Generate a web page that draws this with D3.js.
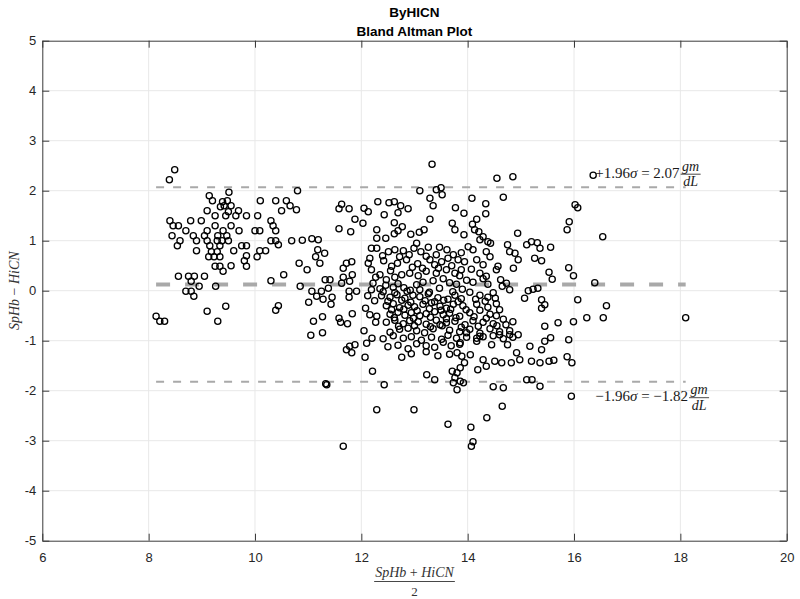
<!DOCTYPE html>
<html>
<head>
<meta charset="utf-8">
<script src="https://cdn.jsdelivr.net/npm/d3@7"></script>
<style>
  body { margin: 0; background: #fff; }
  svg { display: block; }
</style>
</head>
<body>
<svg id="chart" width="800" height="599"></svg>
<script>
// Bland-Altman agreement plot: SpHb vs HiCN haemoglobin readings.

const titleLines = ["ByHICN", "Bland Altman Plot"];
const xTicks = [6, 8, 10, 12, 14, 16, 18, 20];
const yTicks = [-5, -4, -3, -2, -1, 0, 1, 2, 3, 4, 5];
const xDomain = [6, 20];
const yDomain = [-5, 5];

// Limits of agreement (gm/dL) and the mean bias between them.
const upperLimit = 2.07;
const lowerLimit = -1.82;
const bias = 0.125;

// [mean of the two methods, SpHb - HiCN] pairs, grouped by mean range.
const lowRange = [
  [8.49,2.42],[8.39,2.22],[9.14,1.90],[9.51,1.97],[9.20,1.80],[9.39,1.78],[9.48,1.80],[9.35,1.68],
  [9.42,1.70],[9.55,1.70],[9.50,1.58],[9.10,1.60],[9.69,1.60],[9.84,1.50],[10.05,1.50],[10.10,1.80],
  [10.39,1.80],[10.59,1.80],[10.50,1.60],[10.66,1.70],[10.78,1.62],[10.80,2.00],[9.25,1.50],[9.45,1.50],
  [9.64,1.50],[8.40,1.40],[8.46,1.30],[8.56,1.30],[8.79,1.40],[8.99,1.40],[9.25,1.30],[9.40,1.20],
  [9.55,1.30],[9.70,1.20],[9.10,1.20],[8.70,1.20],[8.44,1.10],[8.84,1.10],[9.05,1.10],[9.30,1.10],
  [9.47,1.10],[8.59,1.00],[8.90,1.00],[9.10,1.00],[9.29,1.00],[9.38,1.00],[9.50,1.00],[8.54,0.90],
  [9.15,0.90],[9.34,0.90],[8.90,0.80],[9.18,0.78],[9.29,0.78],[9.13,0.68],[9.23,0.68],[9.34,0.68],
  [9.60,0.80],[9.75,0.90],[9.84,0.90],[9.84,0.70],[9.80,0.60],[9.84,0.49],[10.04,0.68],[10.09,0.80],
  [10.20,0.80],[9.25,0.49],[9.34,0.49],[9.40,0.39],[9.55,0.50],[10.00,1.20],[10.09,1.20],[10.30,1.40],
  [10.34,1.30],[10.39,1.20],[10.30,1.00],[10.39,1.00],[10.44,0.92],[10.69,1.00],[10.89,1.01],[11.07,1.04],
  [11.19,1.02],[11.18,0.82],[11.31,0.75],[11.14,0.68],[11.22,0.55],[10.83,0.55],[10.98,0.42],[10.54,0.32],
  [10.30,0.20],[8.56,0.29],[8.75,0.29],[8.86,0.29],[9.05,0.29],[8.80,0.19],[8.95,0.09],[8.70,-0.01],
  [8.80,-0.01],[8.85,-0.11],[9.26,0.09],[9.45,-0.31],[9.10,-0.41],[9.30,-0.61],[8.14,-0.51],[8.21,-0.61],
  [8.30,-0.61],[10.44,-0.30],[10.39,-0.39],[10.85,0.09],[11.07,-0.01],[11.16,-0.11],[11.25,-0.01],
  [11.01,-0.23],[11.28,-0.17],[11.43,-0.27],[11.45,-0.13],[11.32,0.22],[11.41,0.22],[11.38,0.05],
  [11.10,-0.61],[11.27,-0.52],[11.05,-0.89],[11.27,-0.84],[11.33,-1.86],[11.35,-1.88]
];

const midRange = [
  [11.58,1.64],[11.63,1.73],[11.77,1.64],[11.58,1.24],[11.80,1.18],[11.88,1.43],[11.58,-0.55],[11.61,-0.63],
  [11.74,-0.66],[11.83,-0.46],[11.66,0.45],[11.72,0.55],[11.82,0.58],[11.66,0.27],[11.78,0.19],[11.63,0.15],
  [11.77,-0.01],[11.91,-0.01],[11.77,-0.13],[11.83,0.32],[11.78,-1.11],[11.88,-1.08],[11.72,-1.18],[11.82,-1.24],
  [11.66,-3.11],
  [12.08,-0.35],[12.16,-0.48],[12.29,-0.51],[12.27,-0.63],[12.05,-0.80],[12.20,-0.95],[12.10,-1.05],
  [12.25,-0.20],[12.12,-0.10],[12.22,0.15],
  [12.31,1.78],[12.52,1.76],[12.62,1.78],[12.74,1.70],[12.88,1.64],[12.05,1.65],[12.13,1.58],[12.43,1.52],
  [12.69,1.56],[13.29,1.85],[13.35,1.70],[13.52,1.92],[13.10,2.00],[13.41,2.02],[13.77,1.66],[13.93,1.55],
  [13.29,1.43],[13.18,1.22],[13.09,1.17],[12.93,1.13],[12.77,1.28],[12.62,1.36],[12.69,1.20],[12.62,1.14],
  [12.46,1.05],[12.29,1.22],[12.29,1.05],[12.03,1.35],[13.93,1.12],[13.76,1.22],[13.71,1.35],
  [12.19,0.85],[12.29,0.85],[12.51,0.78],[12.63,0.82],[12.79,0.80],[12.99,0.85],[13.04,0.95],[13.26,0.87],
  [13.47,0.87],[13.61,0.82],[13.73,0.72],[13.88,0.76],[13.94,0.58],[13.82,0.62],[13.63,0.65],[13.51,0.58],
  [13.38,0.52],[13.29,0.62],[13.15,0.45],[13.06,0.54],[12.96,0.47],[12.85,0.62],[12.72,0.68],[12.57,0.49],
  [12.16,0.65],[12.13,0.55],[12.19,0.42],[12.27,0.27],[12.19,0.02],
  [12.42,0.60],[12.55,0.40],[12.68,0.55],[12.90,0.72],[13.12,0.78],[13.45,0.45],[13.70,0.50],[13.85,0.30],
  [12.40,0.70],
  [12.35,0.32],[12.47,0.22],[12.63,0.27],[12.76,0.32],[12.91,0.35],[13.07,0.30],[13.22,0.39],[13.41,0.35],
  [13.60,0.42],[13.76,0.35],[13.88,0.42],[13.22,0.69],[13.41,0.72],
  [12.35,0.04],[12.46,0.11],[12.60,0.07],[12.69,0.14],[12.80,0.06],[12.92,0.01],[13.04,0.12],[13.16,0.17],
  [13.35,0.20],[13.54,0.24],[13.66,0.16],[13.79,0.13],[13.98,0.21],
  [12.41,-0.02],[12.63,-0.04],[12.86,-0.01],[13.10,0.02],[13.28,-0.03],[13.47,0.05],[13.72,-0.02],[13.90,0.03],
  [12.38,-0.10],[12.54,-0.13],[12.67,-0.08],[12.82,-0.15],[12.97,-0.09],[13.10,-0.12],[13.26,-0.06],
  [13.44,-0.14],[13.63,-0.17],[13.76,-0.09],[13.88,-0.16],
  [12.50,-0.21],[12.76,-0.19],[12.93,-0.23],[13.20,-0.20],[13.38,-0.22],[13.55,-0.19],[13.82,-0.22],
  [12.47,-0.30],[12.60,-0.26],[12.72,-0.34],[12.88,-0.29],[13.00,-0.32],[13.16,-0.27],[13.32,-0.24],
  [13.48,-0.31],[13.60,-0.35],[13.73,-0.27],[13.91,-0.30],
  [12.57,-0.38],[12.80,-0.37],[13.05,-0.40],[13.28,-0.36],[13.50,-0.39],[13.68,-0.37],[13.97,-0.38],
  [12.54,-0.47],[12.69,-0.43],[12.82,-0.49],[12.94,-0.44],[13.10,-0.50],[13.22,-0.46],[13.38,-0.42],
  [13.54,-0.48],[13.66,-0.45],[13.85,-0.51],
  [12.62,-0.54],[12.98,-0.55],[13.30,-0.53],[13.60,-0.56],[13.78,-0.54],
  [12.47,-0.63],[12.63,-0.59],[12.79,-0.66],[12.91,-0.60],[13.07,-0.62],[13.22,-0.67],[13.41,-0.59],
  [13.60,-0.64],[13.76,-0.61],[13.95,-0.68],
  [12.70,-0.71],[13.00,-0.70],[13.30,-0.72],[13.52,-0.70],[13.88,-0.73],
  [12.54,-0.83],[12.72,-0.77],[12.88,-0.75],[13.04,-0.80],[13.19,-0.84],[13.35,-0.76],[13.48,-0.68],
  [13.66,-0.79],[13.85,-0.82],
  [12.41,-0.96],[12.60,-0.90],[12.79,-0.95],[12.94,-0.92],[13.13,-0.99],[13.32,-0.93],[13.51,-0.97],
  [13.63,-0.89],[13.79,-0.95],[13.98,-0.93],
  [12.50,-1.12],[12.69,-1.09],[12.88,-1.16],[13.04,-1.06],[13.22,-1.10],[13.38,-1.13],[13.54,-1.03],
  [13.69,-1.10],[13.85,-1.07],
  [12.76,-1.33],[12.94,-1.26],[13.22,-1.22],[13.44,-1.30],[13.66,-1.27],
  [13.98,-0.84],[13.86,-1.04],[13.80,-1.24],[13.89,-1.31],[13.94,-1.44],[13.86,-1.54],[13.80,-1.64],
  [13.71,-1.61],[13.76,-1.74],[13.86,-1.81],[13.73,-1.84],[13.80,-1.98],[13.92,-1.84],[13.38,-1.78],
  [13.23,-1.68],[13.63,-2.67],[12.99,-2.38],[12.29,-2.38],[12.43,-1.88],[12.21,-1.61],[12.07,-1.33],
  [13.33,2.53],[13.50,2.06]
];

const highRange = [
  [14.08,1.85],[14.34,1.74],[14.67,1.87],[14.34,1.54],[14.17,1.43],[14.09,1.33],[14.13,1.22],[14.21,1.18],
  [14.29,1.08],[14.23,1.02],[14.38,0.98],[14.43,0.95],[14.94,1.15],[14.01,0.88],[14.10,0.82],
  [14.35,0.78],[14.42,0.68],[14.54,0.42],[14.75,0.92],[14.79,0.78],[14.89,0.75],[14.95,0.62],[14.86,0.45],
  [14.57,0.49],[14.62,0.22],[14.73,0.15],[14.79,0.02],[14.65,0.09],[15.11,0.92],[15.20,0.98],[15.31,0.96],
  [15.36,0.85],[15.56,0.87],[15.26,0.65],[15.39,0.60],[15.53,0.37],[15.59,0.23],[15.32,0.05],[15.23,0.03],
  [15.14,0.00],[15.07,-0.15],[15.39,-0.18],[15.45,-0.28],[15.39,-0.35],[15.45,-0.71],[15.56,-0.94],
  [15.45,-1.01],[15.70,-0.64],[15.39,-1.18],[15.53,-1.41],[15.62,-1.39],[15.36,-1.44],[15.20,-1.41],
  [14.98,-1.38],[14.82,-1.44],[14.64,-1.44],[14.51,-1.41],[14.35,-1.51],[14.29,-1.38],[14.45,-1.08],
  [14.60,-0.88],[14.79,-0.88],[14.95,-0.88],[14.92,-1.24],[14.75,-1.08],[15.17,-1.11],
  [14.23,-0.91],[14.17,-1.01],[14.05,-1.28],[14.19,-1.58],[14.48,-1.92],[14.67,-1.94],[15.11,-1.78],
  [15.21,-1.78],[15.36,-1.91],[14.65,-2.31],[14.36,-2.54],[14.06,-2.73],[14.10,-3.02],[14.07,-3.11],
  [14.07,0.43],[14.23,0.35],[14.35,0.29],[14.17,0.62],[14.29,0.52],
  [14.10,0.17],[14.29,0.24],[14.38,0.13],[14.04,-0.03],[14.23,-0.09],[14.38,-0.13],[14.48,-0.04],
  [14.17,-0.27],[14.38,-0.33],[14.54,-0.26],[14.04,-0.44],[14.23,-0.39],[14.42,-0.47],[14.54,-0.50],
  [14.10,-0.60],[14.29,-0.63],[14.48,-0.66],[14.67,-0.57],[14.85,-0.62],
  [14.04,-0.77],[14.23,-0.85],[14.42,-0.76],[14.60,-0.82],[14.79,-0.80],
  [14.17,-0.95],[14.29,-0.92],[14.48,-0.90],[14.67,-0.96],[14.85,-0.93],
  [14.15,-0.17],[14.33,-0.21],[14.52,-0.15],[14.12,-0.52],[14.35,-0.55],[14.60,-0.38],[14.20,-0.71],
  [14.55,-0.70],[14.72,-0.68],
  [14.55,2.25],[14.85,2.28],
  [15.91,1.38],[15.87,1.22],[16.02,1.72],[16.07,1.66],[16.36,2.31],[16.54,1.08],[16.39,0.16],[15.90,0.46],
  [15.99,0.30],[16.07,-0.18],[15.99,-0.62],[15.90,-0.98],[15.87,-1.32],[15.96,-1.44],[16.24,-0.54],
  [16.61,-0.30],[16.55,-0.54],[15.95,-2.11],[18.10,-0.54]
];

const points = [...lowRange, ...midRange, ...highRange];

const svg = d3.select("#chart");
const plot = { left: 42.3, right: 786.7, top: 40.7, bottom: 540.7 };

const x = d3.scaleLinear().domain(xDomain).range([plot.left, plot.right]);
const y = d3.scaleLinear().domain(yDomain).range([plot.bottom, plot.top]);

const axisColor = "#3a3a3a";
const tickFont = "'Liberation Sans', Arial, sans-serif";
const mathFont = "'Liberation Serif', 'Times New Roman', serif";

// Grid
const grid = svg.append("g").attr("class", "grid");
grid.selectAll("line.vx").data(xTicks.slice(1, -1)).join("line")
  .attr("x1", d => x(d)).attr("x2", d => x(d))
  .attr("y1", plot.top).attr("y2", plot.bottom)
  .attr("stroke", "#e8e8e8").attr("stroke-width", 1);
grid.selectAll("line.hy").data(yTicks.slice(1, -1)).join("line")
  .attr("x1", plot.left).attr("x2", plot.right)
  .attr("y1", d => y(d)).attr("y2", d => y(d))
  .attr("stroke", "#e8e8e8").attr("stroke-width", 1);

// Limit-of-agreement and bias lines across the measured range
const xExtent = d3.extent(points, d => d[0]);
const refLines = [
  { v: upperLimit, w: 2, dash: "8,9" },
  { v: lowerLimit, w: 2, dash: "8,9" },
  { v: bias, w: 4, dash: "14,15" }
];
svg.append("g").selectAll("line").data(refLines).join("line")
  .attr("x1", x(xExtent[0])).attr("x2", x(xExtent[1]))
  .attr("y1", d => y(d.v)).attr("y2", d => y(d.v))
  .attr("stroke", "#a9a9a9")
  .attr("stroke-width", d => d.w)
  .attr("stroke-dasharray", d => d.dash);

// Data points
svg.append("g").selectAll("circle").data(points).join("circle")
  .attr("cx", d => x(d[0])).attr("cy", d => y(d[1]))
  .attr("r", 3.1)
  .attr("fill", "none")
  .attr("stroke", "#000")
  .attr("stroke-width", 1.3);

// Axes with inward ticks on all four sides
const fmt = d => String(d);
function styleAxis(g) {
  g.selectAll("path.domain").attr("stroke", axisColor).attr("stroke-width", 1);
  g.selectAll(".tick line").attr("stroke", axisColor).attr("stroke-width", 1);
  g.selectAll(".tick text").attr("fill", "#262626")
    .style("font-family", tickFont).style("font-size", "13px");
}
svg.append("g").attr("transform", `translate(0,${plot.bottom})`)
  .call(d3.axisBottom(x).tickValues(xTicks).tickFormat(fmt).tickSizeInner(-7).tickSizeOuter(0).tickPadding(12))
  .call(styleAxis);
svg.append("g").attr("transform", `translate(0,${plot.top})`)
  .call(d3.axisTop(x).tickValues(xTicks).tickFormat("").tickSizeInner(-7).tickSizeOuter(0))
  .call(styleAxis);
svg.append("g").attr("transform", `translate(${plot.left},0)`)
  .call(d3.axisLeft(y).tickValues(yTicks).tickFormat(fmt).tickSizeInner(-7).tickSizeOuter(0).tickPadding(6))
  .call(styleAxis);
svg.append("g").attr("transform", `translate(${plot.right},0)`)
  .call(d3.axisRight(y).tickValues(yTicks).tickFormat("").tickSizeInner(-7).tickSizeOuter(0))
  .call(styleAxis);

// Title
svg.append("g").selectAll("text").data(titleLines).join("text")
  .attr("x", (plot.left + plot.right) / 2)
  .attr("y", (d, i) => 17 + i * 18.5)
  .attr("text-anchor", "middle")
  .attr("fill", "#000")
  .style("font-family", tickFont)
  .style("font-weight", "bold")
  .style("font-size", "13.5px")
  .text(d => d);

// Y axis label: SpHb − HiCN
const yLab = svg.append("text")
  .attr("transform", `translate(19,${(plot.top + plot.bottom) / 2}) rotate(-90)`)
  .attr("text-anchor", "middle")
  .attr("fill", "#333")
  .style("font-family", mathFont)
  .style("font-size", "14px");
yLab.append("tspan").style("font-style", "italic").text("SpHb");
yLab.append("tspan").text(" \u2212 ");
yLab.append("tspan").style("font-style", "italic").text("HiCN");

// X axis label: (SpHb + HiCN) / 2
const cx = (plot.left + plot.right) / 2;
const num = svg.append("text")
  .attr("x", cx).attr("y", 577)
  .attr("text-anchor", "middle")
  .attr("fill", "#333")
  .style("font-family", mathFont)
  .style("font-size", "14px");
num.append("tspan").style("font-style", "italic").text("SpHb");
num.append("tspan").text(" + ");
num.append("tspan").style("font-style", "italic").text("HiCN");
const numW = num.node().getComputedTextLength();
svg.append("line")
  .attr("x1", cx - numW / 2 - 1).attr("x2", cx + numW / 2 + 1)
  .attr("y1", 581.5).attr("y2", 581.5)
  .attr("stroke", "#333").attr("stroke-width", 0.9);
svg.append("text")
  .attr("x", cx).attr("y", 596)
  .attr("text-anchor", "middle")
  .attr("fill", "#333")
  .style("font-family", mathFont)
  .style("font-size", "13px")
  .text("2");

// Limit annotations: ±1.96σ = value gm/dL
function limitLabel(value, sign, above) {
  const lineY = y(value);
  const barY = above ? lineY - 13 : lineY + 16;
  const g = svg.append("g");
  const t = g.append("text")
    .attr("x", x(16.4)).attr("y", barY + 3.5)
    .attr("fill", "#1a1a1a")
    .style("font-family", mathFont)
    .style("font-size", "15px");
  t.append("tspan").text(sign + "1.96");
  t.append("tspan").style("font-style", "italic").text("\u03c3");
  t.append("tspan").text(" = " + (value < 0 ? "\u2212" : "") + Math.abs(value).toFixed(2));
  const w = t.node().getComputedTextLength();
  const fx = x(16.4) + w + 11;
  g.append("text").attr("x", fx).attr("y", barY - 3.5)
    .attr("text-anchor", "middle").attr("fill", "#1a1a1a")
    .style("font-family", mathFont).style("font-style", "italic").style("font-size", "14px")
    .text("gm");
  g.append("line").attr("x1", fx - 10).attr("x2", fx + 10)
    .attr("y1", barY).attr("y2", barY)
    .attr("stroke", "#1a1a1a").attr("stroke-width", 0.8);
  g.append("text").attr("x", fx).attr("y", barY + 12)
    .attr("text-anchor", "middle").attr("fill", "#1a1a1a")
    .style("font-family", mathFont).style("font-style", "italic").style("font-size", "14px")
    .text("dL");
}
limitLabel(upperLimit, "+", true);
limitLabel(lowerLimit, "\u2212", false);
</script>
</body>
</html>
